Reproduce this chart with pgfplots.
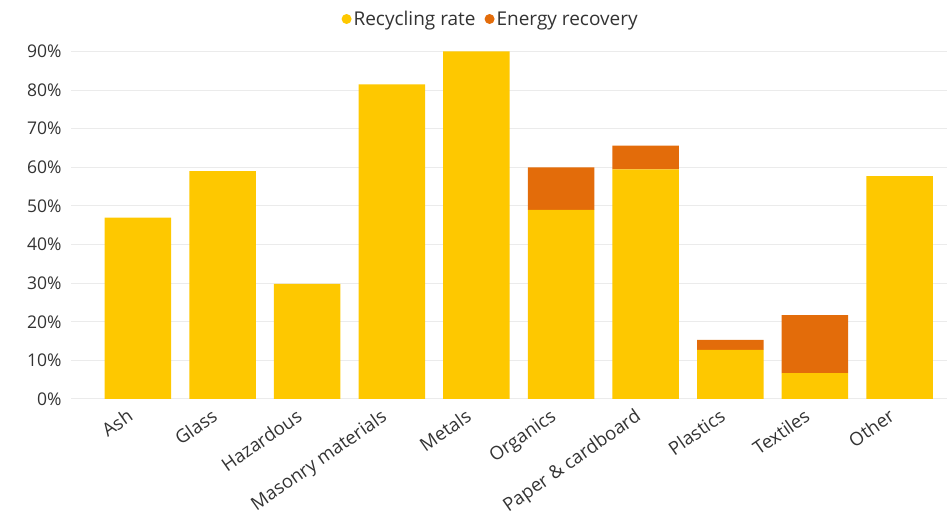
\documentclass[border=0pt]{standalone}
\usepackage{fontspec}
\setmainfont{Open Sans}
\usepackage{pgfplots}
\usepackage{pgfplotstable}
\pgfplotsset{compat=1.18}

\definecolor{recyc}{HTML}{FEC800}
\definecolor{energy}{HTML}{E36C0A}
\definecolor{gridc}{HTML}{EBEBEB}
\definecolor{txt}{HTML}{333333}

% recycling rate and energy recovery share, in percent
\pgfplotstableread{
x rec en
0 47.0 0
1 59.0 0
2 29.8 0
3 81.5 0
4 90.0 0
5 49.0 11.0
6 59.5 6.1
7 12.7 2.6
8 6.7 15.0
9 57.7 0
}\waste

\begin{document}
\begin{tikzpicture}
\useasboundingbox (0,0) rectangle (948pt,514pt);
\begin{axis}[
  at={(71pt,115pt)}, anchor=south west,
  scale only axis, width=876pt, height=347.5pt,
  xmin=-0.79, xmax=9.56, ymin=0, ymax=90,
  ybar stacked, bar width=66.5pt,
  axis line style={draw=none},
  tick style={draw=none},
  ymajorgrids, grid style={gridc, line width=1pt},
  ytick={0,10,...,90},
  yticklabels={0\%,10\%,20\%,30\%,40\%,50\%,60\%,70\%,80\%,90\%},
  xtick={0,...,9},
  xticklabels={Ash,Glass,Hazardous,Masonry materials,Metals,Organics,
    Paper \& cardboard,Plastics,Textiles,Other},
  yticklabel style={font=\fontsize{17.5}{20}\selectfont, text=txt, xshift=-6pt},
  xticklabel style={font=\fontsize{18.5}{22}\selectfont, text=txt,
    xshift=-11pt, yshift=-4pt, rotate=35, anchor=north east},
  legend style={at={(0.479,1.0935)}, anchor=center, draw=none,
    font=\fontsize{19}{22}\selectfont, text=txt,
    /tikz/every even column/.append style={column sep=7pt}},
  legend columns=2,
]
\addplot[fill=recyc, draw=none,
  legend image code/.code={\fill[recyc] (5pt,0pt) circle (5pt);}]
  table[x=x, y=rec] {\waste};
\addlegendentry{Recycling rate}
\addplot[fill=energy, draw=none,
  legend image code/.code={\fill[energy] (5pt,0pt) circle (5pt);}]
  table[x=x, y=en] {\waste};
\addlegendentry{Energy recovery}
\end{axis}
\end{tikzpicture}
\end{document}
